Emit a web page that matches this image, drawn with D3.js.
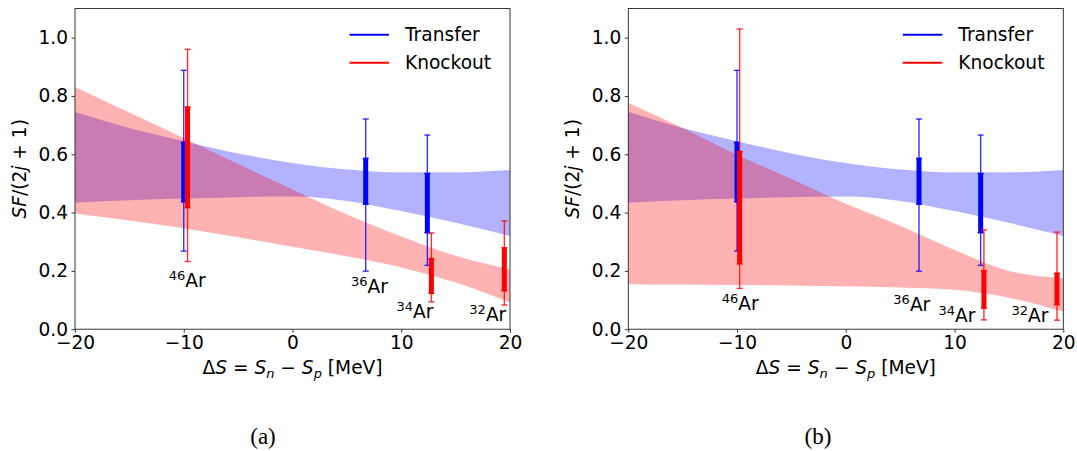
<!DOCTYPE html>
<html>
<head>
<meta charset="utf-8">
<script src="https://cdn.jsdelivr.net/npm/d3@7/dist/d3.min.js"></script>
<style>
  body { margin: 0; background: #fff; }
  text { font-family: "DejaVu Sans", sans-serif; }
</style>
</head>
<body>
<svg id="chart" width="1077" height="451"></svg>
<script>
// band grid (MeV) and band edges
const bandX = [-20, -15, -10, -5, 0, 5, 10, 15, 20];
const transferLo = [0.434, 0.442, 0.448, 0.453, 0.455, 0.440, 0.405, 0.365, 0.320];
const transferHi = [0.746, 0.690, 0.645, 0.603, 0.570, 0.548, 0.538, 0.538, 0.546];
const knockLoA = [0.397, 0.373, 0.346, 0.315, 0.283, 0.250, 0.212, 0.160, 0.092];
const knockHiA = [0.831, 0.743, 0.655, 0.567, 0.479, 0.393, 0.318, 0.252, 0.205];
const knockLoB = [0.154, 0.153, 0.152, 0.150, 0.147, 0.143, 0.135, 0.108, 0.060];
const knockHiB = [0.776, 0.690, 0.598, 0.515, 0.430, 0.355, 0.272, 0.200, 0.175];

// error bars: [lo, hi] thick (inner) and thin (outer)
const transferX = [-10.0, 6.73, 12.4];
const transferIn = [[0.437, 0.641], [0.429, 0.586], [0.331, 0.534]];
const transferOut = [[0.268, 0.888], [0.199, 0.721], [0.219, 0.666]];
const knockXA = [-9.65, 12.77, 19.48];
const knockInA = [[0.417, 0.762], [0.123, 0.242], [0.132, 0.279]];
const knockOutA = [[0.232, 0.960], [0.094, 0.330], [0.083, 0.371]];
const knockXB = [-9.76, 12.7, 19.42];
const knockInB = [[0.224, 0.609], [0.072, 0.201], [0.084, 0.192]];
const knockOutB = [[0.140, 1.030], [0.032, 0.341], [0.031, 0.333]];

// isotope labels
const massNumbers = ["46", "36", "34", "32"];
const labelPosA = [[-9.68, 0.144], [7.08, 0.123], [11.25, 0.037], [17.96, 0.029]];
const labelPosB = [[-9.71, 0.066], [6.07, 0.063], [10.22, 0.026], [16.94, 0.026]];

const xTicks = [-20, -10, 0, 10, 20];
const yTicks = [0, 0.2, 0.4, 0.6, 0.8, 1.0];
const seriesNames = ["Transfer", "Knockout"];
const seriesColors = ["blue", "red"];

const svg = d3.select("#chart");
const plotTop = 8.5, plotBottom = 329.2;
const fs = 18.6;
const fsSmall = 13;

function drawPanel(left, right, knockLo, knockHi, knockX, knockIn, knockOut, labelPos, caption) {
  const x = d3.scaleLinear().domain([-20, 20]).range([left, right]);
  const y = d3.scaleLinear().domain([0, 1.1]).range([plotBottom, plotTop]);
  const g = svg.append("g");

  const area = (lo, hi) => d3.area()
    .x((d, i) => x(bandX[i]))
    .y0((d, i) => y(lo[i]))
    .y1((d, i) => y(hi[i]))
    .curve(d3.curveMonotoneX)(bandX);

  g.append("path").attr("d", area(transferLo, transferHi))
    .attr("fill", "blue").attr("fill-opacity", 0.3);
  g.append("path").attr("d", area(knockLo, knockHi))
    .attr("fill", "red").attr("fill-opacity", 0.3);

  function errBars(xs, inner, outer, color) {
    xs.forEach((xv, i) => {
      const cx = x(xv);
      // thin outer bar + caps
      g.append("line").attr("x1", cx).attr("x2", cx)
        .attr("y1", y(outer[i][0])).attr("y2", y(outer[i][1]))
        .attr("stroke", color).attr("stroke-width", 1.4).attr("stroke-opacity", 0.8);
      outer[i].forEach(v => {
        g.append("line").attr("x1", cx - 3).attr("x2", cx + 3)
          .attr("y1", y(v)).attr("y2", y(v))
          .attr("stroke", color).attr("stroke-width", 1.4).attr("stroke-opacity", 0.8);
      });
      // thick inner bar + caps
      g.append("line").attr("x1", cx).attr("x2", cx)
        .attr("y1", y(inner[i][0])).attr("y2", y(inner[i][1]))
        .attr("stroke", color).attr("stroke-width", 5);
      inner[i].forEach(v => {
        g.append("line").attr("x1", cx - 3).attr("x2", cx + 3)
          .attr("y1", y(v)).attr("y2", y(v))
          .attr("stroke", color).attr("stroke-width", 1.5);
      });
    });
  }
  errBars(transferX, transferIn, transferOut, "blue");
  errBars(knockX, knockIn, knockOut, "red");

  // isotope labels
  labelPos.forEach((p, i) => {
    const t = g.append("text").attr("x", x(p[0])).attr("y", y(p[1]))
      .attr("text-anchor", "middle").attr("font-size", fs);
    t.append("tspan").attr("font-size", fsSmall).attr("dy", -7).text(massNumbers[i]);
    t.append("tspan").attr("dy", 7).text("Ar");
  });

  // axes
  const ax = g.append("g").attr("transform", `translate(0,${plotBottom})`)
    .call(d3.axisBottom(x).tickValues(xTicks).tickSize(3.5).tickPadding(3.5));
  const ay = g.append("g").attr("transform", `translate(${left},0)`)
    .call(d3.axisLeft(y).tickValues(yTicks).tickFormat(d3.format(".1f")).tickSize(3.5).tickPadding(3.5));
  [ax, ay].forEach(a => {
    a.select(".domain").remove();
    a.selectAll("text").attr("font-size", fs).attr("fill", "#000");
    a.selectAll("line").attr("stroke", "#222").attr("stroke-width", 0.9);
  });

  g.append("rect").attr("x", left).attr("y", plotTop)
    .attr("width", right - left).attr("height", plotBottom - plotTop)
    .attr("fill", "none").attr("stroke", "#222").attr("stroke-width", 0.9);

  // legend
  seriesNames.forEach((name, i) => {
    const ly = 34.7 + i * 28;
    g.append("line").attr("x1", right - 160.5).attr("x2", right - 121)
      .attr("y1", ly).attr("y2", ly)
      .attr("stroke", seriesColors[i]).attr("stroke-width", 2);
    g.append("text").attr("x", right - 105).attr("y", ly).attr("dy", "0.36em")
      .attr("font-size", fs).text(name);
  });

  // axis titles
  const xl = g.append("text").attr("x", (left + right) / 2).attr("y", 374)
    .attr("text-anchor", "middle").attr("font-size", fs);
  xl.append("tspan").text("Δ");
  xl.append("tspan").attr("font-style", "italic").text("S");
  xl.append("tspan").text(" = ");
  xl.append("tspan").attr("font-style", "italic").text("S");
  xl.append("tspan").attr("font-style", "italic").attr("font-size", fsSmall).attr("dy", 4).text("n");
  xl.append("tspan").attr("dy", -4).text(" − ");
  xl.append("tspan").attr("font-style", "italic").text("S");
  xl.append("tspan").attr("font-style", "italic").attr("font-size", fsSmall).attr("dy", 4).text("p");
  xl.append("tspan").attr("dy", -4).text(" [MeV]");

  const yl = g.append("text")
    .attr("transform", `translate(${left - 49},${(plotTop + plotBottom) / 2}) rotate(-90)`)
    .attr("text-anchor", "middle").attr("font-size", fs);
  yl.append("tspan").attr("font-style", "italic").text("SF");
  yl.append("tspan").text("/(2");
  yl.append("tspan").attr("font-style", "italic").text("j");
  yl.append("tspan").text(" + 1)");

  svg.append("text").attr("x", caption[1]).attr("y", 444)
    .attr("text-anchor", "middle").attr("font-size", 23)
    .style("font-family", "'Liberation Serif', serif")
    .text(caption[0]);
}

drawPanel(75, 510, knockLoA, knockHiA, knockXA, knockInA, knockOutA, labelPosA, ["(a)", 263]);
drawPanel(628.3, 1063.3, knockLoB, knockHiB, knockXB, knockInB, knockOutB, labelPosB, ["(b)", 818]);
</script>
</body>
</html>
